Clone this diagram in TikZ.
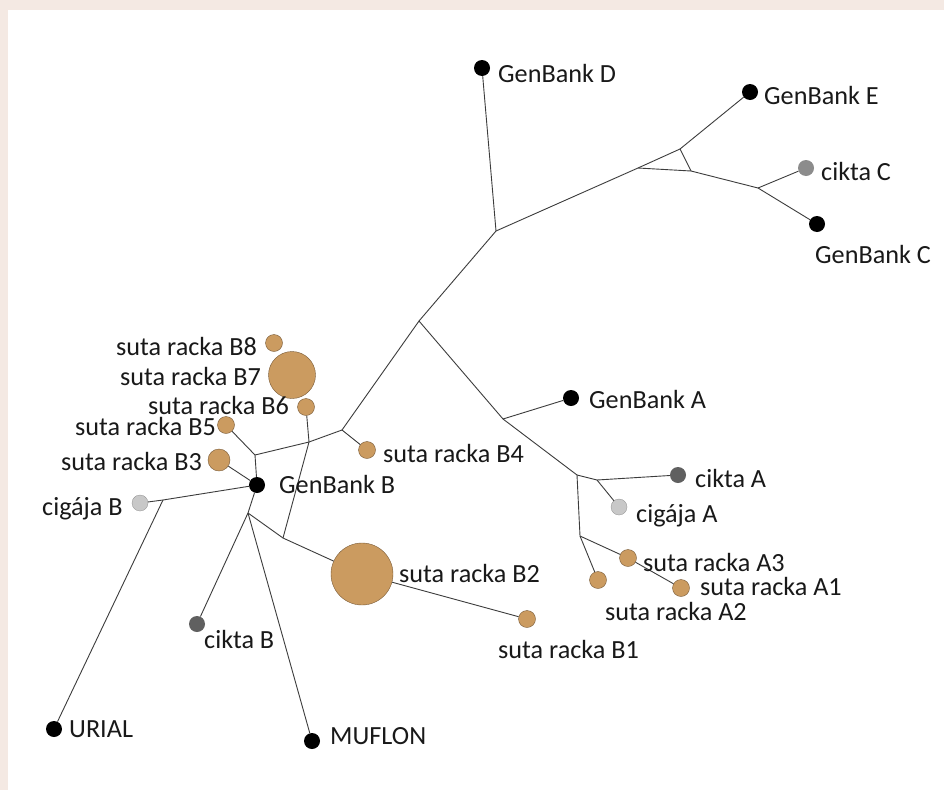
\documentclass[tikz,border=0pt]{standalone}
\usepackage{fontspec}
\setmainfont{Carlito}
\definecolor{bgc}{RGB}{244,233,227}
\definecolor{tanc}{RGB}{203,155,96}
\definecolor{tanline}{RGB}{120,90,55}
\definecolor{darkg}{RGB}{96,96,96}
\definecolor{midg}{RGB}{140,140,140}
\definecolor{lightg}{RGB}{200,200,200}
\definecolor{txt}{RGB}{25,25,25}
\definecolor{edgec}{RGB}{60,60,60}
\begin{document}
\begin{tikzpicture}[x=1pt,y=-1pt,
  dot/.style={circle,inner sep=0pt,minimum size=16pt},
  blk/.style={dot,fill=black},
  tan/.style={dot,fill=tanc,draw=tanline,line width=0.4pt,minimum size=17pt},
  ckt/.style={dot,fill=darkg},
  ckc/.style={dot,fill=midg},
  cig/.style={dot,fill=lightg,draw=midg,line width=0.3pt},
  lbl/.style={anchor=base west,inner sep=0pt,text=txt,font=\fontsize{26.2}{30}\selectfont},
  edge/.style={draw=edgec,line width=0.9pt}]
\useasboundingbox (0,0) rectangle (944,790);
\fill[bgc] (0,0) rectangle (944,790);
\fill[white] (8,10) rectangle (944,790);

% junction points
\coordinate (J1) at (496,231);
\coordinate (T1) at (638,168);
\coordinate (T2) at (680,149);
\coordinate (T3) at (691,171);
\coordinate (J13) at (758,188);
\coordinate (J2) at (419,321);
\coordinate (J3) at (342,430);
\coordinate (J4) at (309,442);
\coordinate (J5) at (255,455);
\coordinate (J6) at (283,538);
\coordinate (J7) at (163,500);
\coordinate (J8) at (248,513);
\coordinate (J9) at (503,419);
\coordinate (J10) at (577,475);
\coordinate (J11) at (597,480);
\coordinate (J12) at (580,536);

% leaves
\node[blk] (gD) at (482,68) {};
\node[blk] (gE) at (750,92) {};
\node[ckc] (cC) at (806,168) {};
\node[blk] (gC) at (817,224) {};
\node[blk] (gA) at (571,398) {};
\node[ckt] (cA) at (678,475) {};
\node[cig] (cgA) at (619,507) {};
\node[tan] (A3) at (628,558) {};
\node[tan] (A1) at (681,588) {};
\node[tan] (A2) at (598,580) {};
\node[tan] (B4) at (367,450) {};
\node[tan] (B6) at (306,407) {};
\node[tan,minimum size=47pt] (B7) at (292,375) {};
\node[tan] (B8) at (274,343) {};
\node[tan] (B5) at (226,425) {};
\node[tan,minimum size=22pt] (B3) at (219,460) {};
\node[blk] (gB) at (257,485) {};
\node[cig] (cgB) at (140,503) {};
\node[blk] (ur) at (54,729) {};
\node[ckt] (cB) at (197,624) {};
\node[blk] (mu) at (312,741) {};
\node[tan,minimum size=62pt] (B2) at (362,574) {};
\node[tan] (B1) at (527,619) {};

% edges
\draw[edge] (gD) -- (J1);
\draw[edge] (J1) -- (T1);
\draw[edge] (T1) -- (T2);
\draw[edge] (T1) -- (T3);
\draw[edge] (T2) -- (T3);
\draw[edge] (T2) -- (gE);
\draw[edge] (T3) -- (J13);
\draw[edge] (J13) -- (cC);
\draw[edge] (J13) -- (gC);
\draw[edge] (J1) -- (J2);
\draw[edge] (J2) -- (J3);
\draw[edge] (J2) -- (J9);
\draw[edge] (J9) -- (gA);
\draw[edge] (J9) -- (J10);
\draw[edge] (J10) -- (J11);
\draw[edge] (J11) -- (cA);
\draw[edge] (J11) -- (cgA);
\draw[edge] (J10) -- (J12);
\draw[edge] (J12) -- (A2);
\draw[edge] (J12) -- (A3);
\draw[edge] (A3) -- (A1);
\draw[edge] (J3) -- (B4);
\draw[edge] (J3) -- (J4);
\draw[edge] (J4) -- (B6);
\draw[edge] (J4) -- (J5);
\draw[edge] (J4) -- (J6);
\draw[edge] (J5) -- (B5);
\draw[edge] (J5) -- (gB);
\draw[edge] (gB) -- (B3);
\draw[edge] (gB) -- (J7);
\draw[edge] (J7) -- (cgB);
\draw[edge] (J7) -- (ur);
\draw[edge] (gB) -- (J8);
\draw[edge] (J8) -- (cB);
\draw[edge] (J8) -- (mu);
\draw[edge] (J8) -- (J6);
\draw[edge] (J6) -- (B2);
\draw[edge] (B2) -- (B1);

% labels
\node[lbl] (lgD) at (498,82) {GenBank D};
\node[lbl] (lgE) at (764,104) {GenBank E};
\node[lbl] (lcC) at (821,180) {cikta C};
\node[lbl] (lgC) at (815,263) {GenBank C};
\node[lbl] (lgA) at (589,408) {GenBank A};
\node[lbl] (lcA) at (695,487) {cikta A};
\node[lbl] (lcgA) at (636,522) {cigája A};
\node[lbl] (lA3) at (643,571) {suta racka A3};
\node[lbl] (lA1) at (700,595) {suta racka A1};
\node[lbl] (lA2) at (605,620) {suta racka A2};
\node[lbl] (lB1) at (498,658) {suta racka B1};
\node[lbl] (lB2) at (399,582) {suta racka B2};
\node[lbl] (lB4) at (383,462) {suta racka B4};
\node[lbl] (lgB) at (279,493) {GenBank B};
\node[lbl] (lB8) at (116,355) {suta racka B8};
\node[lbl] (lB7) at (120,385) {suta racka B7};
\node[lbl] (lB6) at (148,414) {suta racka B6};
\node[lbl] (lB5) at (75,435) {suta racka B5};
\node[lbl] (lB3) at (61,470) {suta racka B3};
\node[lbl] (lcgB) at (42,515) {cigája B};
\node[lbl] (lcB) at (204,648) {cikta B};
\node[lbl] (lur) at (69,737) {URIAL};
\node[lbl] (lmu) at (330,744) {MUFLON};
\end{tikzpicture}
\end{document}
